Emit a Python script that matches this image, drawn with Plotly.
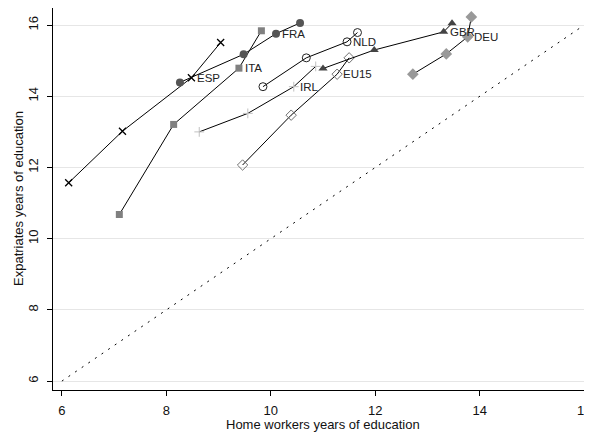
import plotly.graph_objects as go

# Data (home workers years, expatriates years)
esp_x = [6.13, 7.16, 8.48, 9.04]
esp_y = [11.57, 13.02, 14.52, 15.51]
ita_x = [7.10, 8.14, 9.39, 9.82]
ita_y = [10.68, 13.21, 14.79, 15.84]
fra_x = [8.26, 9.48, 10.10, 10.56]
fra_y = [14.39, 15.18, 15.76, 16.06]
nld_x = [9.85, 10.68, 11.46, 11.66]
nld_y = [14.27, 15.08, 15.53, 15.79]
irl_x = [8.63, 9.56, 10.44, 10.86]
irl_y = [13.00, 13.52, 14.27, 14.84]
eu15_x = [9.46, 10.39, 11.27, 11.50]
eu15_y = [12.07, 13.47, 14.62, 15.08]
gbr_x = [11.00, 11.98, 13.31, 13.47]
gbr_y = [14.78, 15.30, 15.81, 16.05]
deu_x = [12.72, 13.36, 13.77, 13.84]
deu_y = [14.62, 15.19, 15.67, 16.23]
diag = [6, 16]
x_ticks = [6, 8, 10, 12, 14, 16]
y_ticks = [6, 8, 10, 12, 14, 16]

series = [
    ("ESP", esp_x, esp_y, dict(symbol="x-thin-open", size=7, color="black", line=dict(color="black", width=1.3))),
    ("ITA", ita_x, ita_y, dict(symbol="square", size=7, color="#808080")),
    ("FRA", fra_x, fra_y, dict(symbol="circle", size=8, color="#555555")),
    ("NLD", nld_x, nld_y, dict(symbol="circle-open", size=8, color="#222222", line=dict(width=1))),
    ("IRL", irl_x, irl_y, dict(symbol="cross-thin-open", size=7, color="#c0c0c0", line=dict(color="#c0c0c0", width=1))),
    ("EU15", eu15_x, eu15_y, dict(symbol="diamond-open", size=8, color="#707070", line=dict(width=1))),
    ("GBR", gbr_x, gbr_y, dict(symbol="triangle-up", size=8, color="#444444")),
    ("DEU", deu_x, deu_y, dict(symbol="diamond", size=9, color="#999999")),
]

FONT = "Liberation Sans, Arial"

fig = go.Figure()
fig.add_trace(go.Scatter(x=diag, y=diag, mode="lines",
                         line=dict(color="black", width=1, dash="2px,6px"),
                         showlegend=False, hoverinfo="skip"))

for name, xs, ys, mk in series:
    fig.add_trace(go.Scatter(x=xs, y=ys, mode="lines+markers",
                             line=dict(color="black", width=1),
                             marker=mk, showlegend=False, name=name))
    fig.add_annotation(x=xs[2], y=ys[2], text=name, showarrow=False,
                       xanchor="left", yanchor="middle", xshift=4,
                       font=dict(family=FONT, size=11.5, color="#222222"))

fig.add_annotation(text="Home workers years of education", xref="paper", yref="paper",
                   x=0.5, y=0, yshift=-34, xanchor="center", yanchor="middle",
                   showarrow=False, font=dict(family=FONT, size=13, color="#111111"))
fig.add_annotation(text="Expatriates years of education", xref="paper", yref="paper",
                   x=0, y=0.5, xshift=-35, xanchor="center", yanchor="middle", textangle=-90,
                   showarrow=False, font=dict(family=FONT, size=13, color="#111111"))

# page body adds an 8px offset, so the figure is sized to fit the window
fig.update_layout(
    width=584, height=427,
    margin=dict(l=45, r=0, t=0, b=45),
    paper_bgcolor="white", plot_bgcolor="white",
    font=dict(family=FONT, size=13, color="#111111"),
    xaxis=dict(range=[5.83, 16.15], tickvals=x_ticks, showgrid=False, zeroline=False,
               showline=True, linecolor="black", linewidth=1, automargin=False,
               ticks="outside", ticklen=5, tickcolor="black", ticklabelstandoff=3,
               ticklabeloverflow="allow"),
    yaxis=dict(range=[5.75, 16.48], tickvals=y_ticks, showgrid=True, gridcolor="#e6e6e6",
               gridwidth=1, zeroline=False, automargin=False,
               showline=True, linecolor="black", linewidth=1,
               ticks="outside", ticklen=5, tickcolor="black", tickangle=-90,
               ticklabelstandoff=4),
)

fig.write_html("out.html")
